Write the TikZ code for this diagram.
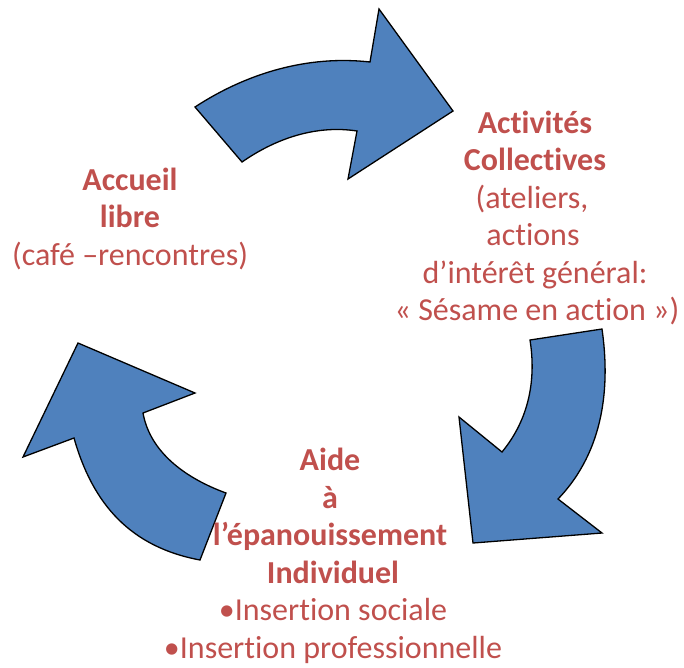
\documentclass[tikz,border=0pt]{standalone}
\usepackage{fontspec}
\setmainfont{Carlito}[Ligatures={NoCommon}]
\definecolor{txtred}{HTML}{C0504D}
\definecolor{arrblue}{HTML}{4F81BD}
\tikzset{
  cyclearrow/.style={fill=arrblue, draw=black, line width=1.3pt, line join=miter},
  lbl/.style={anchor=base, inner sep=0pt, text=txtred, font=\fontsize{32}{37.5}\selectfont},
  lblb/.style={lbl, font=\fontsize{32}{37.5}\selectfont\bfseries}
}
\begin{document}
\begin{tikzpicture}[x=1pt,y=-1pt]
\useasboundingbox (0,0) rectangle (684,667);
% top arrow
\draw[cyclearrow] (195,107) .. controls (247,73) and (308,55) .. (370,62)
  -- (379,9) -- (453,111) -- (348,179) -- (357,131)
  .. controls (318,125) and (278,137) .. (242,162) -- cycle;
% right arrow
\draw[cyclearrow] (602,329) .. controls (610,385) and (605,450) .. (558,499)
  -- (602,533) -- (473,543) -- (459,417) -- (502,452)
  .. controls (530,418) and (536,378) .. (530,340) -- cycle;
% left arrow
\draw[cyclearrow] (200,560) -- (226,493)
  .. controls (185,478) and (150,452) .. (143,413)
  -- (195,393) -- (78,343) -- (23,457) -- (74,438)
  .. controls (93,505) and (131,547) .. (200,560) -- cycle;
% Accueil libre
\node[lblb] (acc1) at (130,190) {Accueil};
\node[lblb] (acc2) at (130,227.5) {libre};
\node[lbl]  (acc3) at (130,265) {(café –rencontres)};
% Activites collectives
\node[lblb] (act1) at (535,133) {Activités};
\node[lblb] (act2) at (535,170.5) {Collectives};
\node[lbl]  (act3) at (532,208) {(ateliers,};
\node[lbl]  (act4) at (533,245.5) {actions};
\node[lbl]  (act5) at (535,283) {d’intérêt général:};
\node[lbl]  (act6) at (537,320.5) {« Sésame en action »)};
% Aide
\node[lblb] (aid1) at (330,470) {Aide};
\node[lblb] (aid2) at (330,508) {à};
\node[lblb] (aid3) at (330,545.5) {l’épanouissement};
\node[lblb] (aid4) at (333,583) {Individuel};
\node[lbl]  (aid5) at (333,620.5) {•Insertion sociale};
\node[lbl]  (aid6) at (333,658) {•Insertion professionnelle};
\end{tikzpicture}
\end{document}
